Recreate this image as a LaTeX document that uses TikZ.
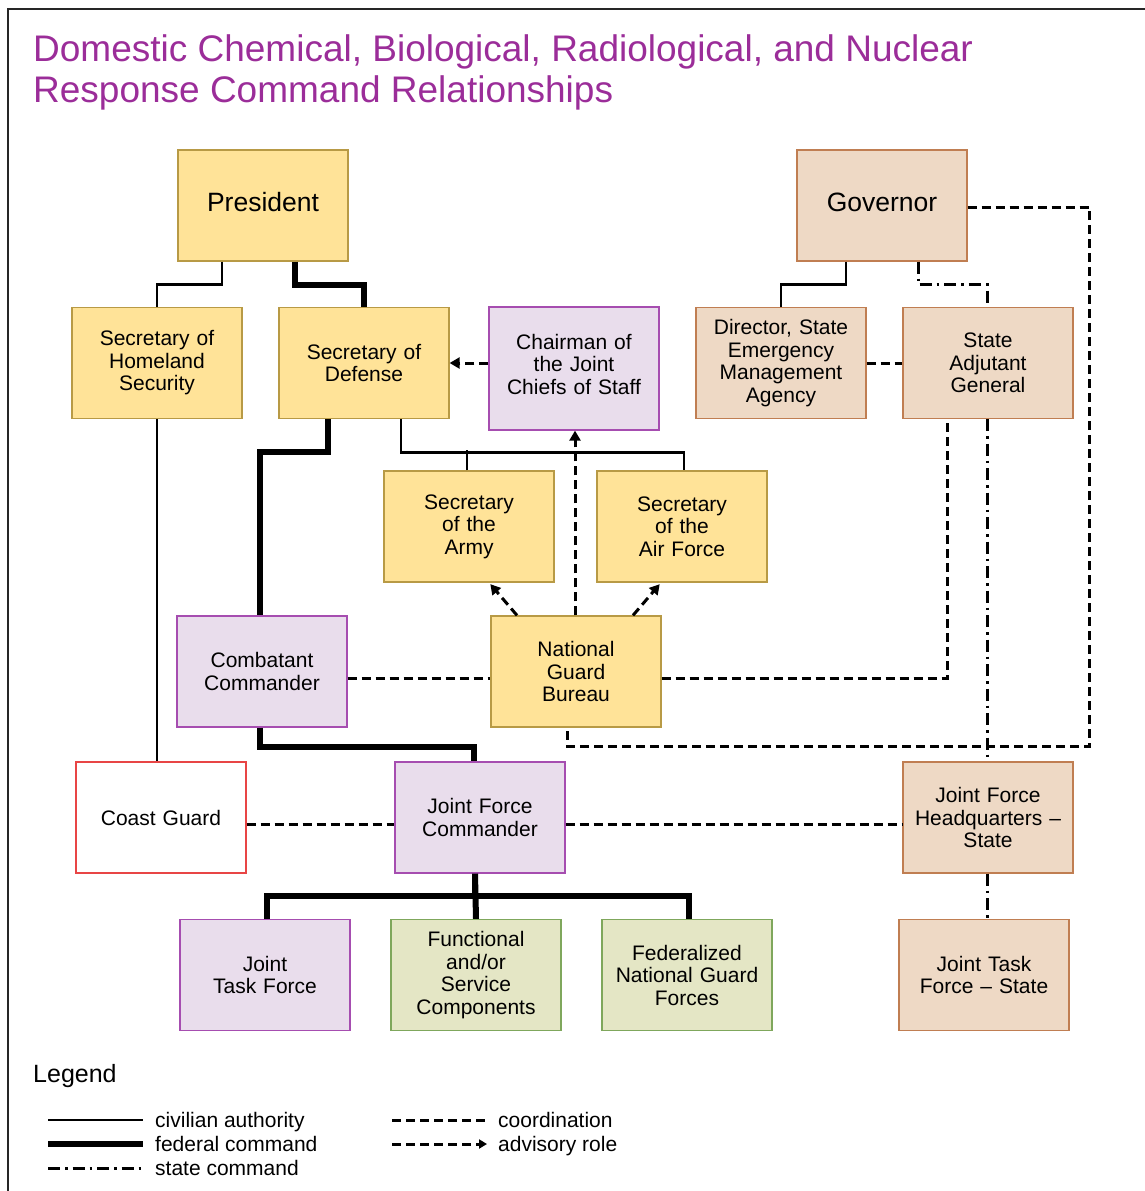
\documentclass[tikz,border=0pt]{standalone}
\usepackage{fontspec}
\setmainfont{Liberation Sans}
\usetikzlibrary{arrows.meta}

\definecolor{fedfill}{HTML}{FFE398}
\definecolor{fedline}{HTML}{B89A45}
\definecolor{statefill}{HTML}{EED9C5}
\definecolor{stateline}{HTML}{C07E52}
\definecolor{jointfill}{HTML}{E9DDEC}
\definecolor{jointline}{HTML}{A64DB0}
\definecolor{forcefill}{HTML}{E4E6C5}
\definecolor{forceline}{HTML}{7FA75C}
\definecolor{cgline}{HTML}{E84545}
\definecolor{titlecol}{HTML}{9B2D99}

\newcommand{\boxfont}{\fontsize{21}{22.5}\selectfont}
\newcommand{\bigfont}{\fontsize{26.5}{30}\selectfont}
\newcommand{\titlefont}{\fontsize{37}{41}\selectfont}

\tikzset{
  orgbox/.style={draw, line width=1.3pt, minimum width=170pt, minimum height=111pt,
    text width=164pt, align=center, inner sep=0pt, font=\boxfont},
  fedbox/.style={orgbox, fill=fedfill, draw=fedline},
  statebox/.style={orgbox, fill=statefill, draw=stateline},
  jointbox/.style={orgbox, fill=jointfill, draw=jointline},
  forcebox/.style={orgbox, fill=forcefill, draw=forceline},
  cgbox/.style={orgbox, fill=white, draw=cgline},
  civil/.style={line width=2.8pt},
  federal/.style={line width=6pt},
  statecmd/.style={line width=3pt, dash pattern=on 12pt off 5pt on 2.5pt off 5pt},
  coord/.style={line width=3pt, dash pattern=on 9pt off 5pt},
  advise/.style={coord, -{Triangle[length=10pt,width=11pt]}},
  legtext/.style={anchor=base west, inner sep=0pt, font=\boxfont},
}

\begin{document}
\begin{tikzpicture}[x=1pt,y=-1pt]
  \useasboundingbox (0,0) rectangle (1145,1191);
  \draw[line width=2.5pt, black!85] (8,1191) -- (8,9) -- (1145,9);

  % title
  \node[anchor=base west, inner sep=0pt, font=\titlefont, text=titlecol] (title1) at (33,61)
    {Domestic Chemical, Biological, Radiological, and Nuclear};
  \node[anchor=base west, inner sep=0pt, font=\titlefont, text=titlecol] (title2) at (33,102)
    {Response Command Relationships};

  % federal side
  \node[fedbox, font=\bigfont] (pres) at (263,205.5) {\raisebox{-5.5pt}[0pt][0pt]{President}};
  \node[fedbox] (sechs) at (157,363) {Secretary of\\Homeland\\Security};
  \node[fedbox] (secdef) at (364,363) {Secretary of\\Defense};
  \node[jointbox, minimum height=123pt] (cjcs) at (574,368.5) {Chairman of\\the Joint\\Chiefs of Staff\\[-14pt]\mbox{}};
  \node[fedbox] (army) at (469,526.5) {Secretary\\of the\\Army};
  \node[fedbox] (af) at (682,526.5) {Secretary\\of the\\Air Force};
  \node[jointbox] (cc) at (262,671.5) {Combatant\\Commander};
  \node[fedbox] (ngb) at (576,671.5) {National\\Guard\\Bureau};
  \node[cgbox] (cg) at (161,817.5) {Coast Guard};
  \node[jointbox] (jfc) at (480,817.5) {Joint Force\\Commander};
  \node[jointbox] (jtf) at (265,975) {Joint\\Task Force};
  \node[forcebox] (func) at (476,975) {Functional\\and/or\\Service\\Components};
  \node[forcebox] (fedng) at (687,975) {Federalized\\National Guard\\Forces};

  % state side
  \node[statebox, font=\bigfont] (gov) at (882,205.5) {\raisebox{-5.5pt}[0pt][0pt]{Governor}};
  \node[statebox] (dsema) at (781,363) {Director, State\\Emergency\\Management\\Agency};
  \node[statebox] (sag) at (988,363) {State\\Adjutant\\General};
  \node[statebox] (jfhq) at (988,817.5) {Joint Force\\Headquarters --\\State};
  \node[statebox] (jtfs) at (984,975) {Joint Task\\Force -- State};

  % civilian authority
  \draw[civil] ([xshift=-41pt]pres.south) -- ++(0,23) -| (sechs.north);
  \draw[civil] ([xshift=-36pt]gov.south) -- ++(0,23) -| (dsema.north);
  \draw[civil] ([xshift=37pt]secdef.south) -- ++(0,33) -| ([xshift=2pt]af.north);
  \draw[civil] ([xshift=-2pt]army.north) -- ++(0,-20);
  \draw[civil] (sechs.south) -- (sechs.south |- cg.north);

  % federal command
  \draw[federal] ([xshift=32pt]pres.south) -- ++(0,23) -| (secdef.north);
  \draw[federal] ([xshift=-36pt]secdef.south) -- ++(0,33) -| ([xshift=-2pt]cc.north);
  \draw[federal] ([xshift=-2pt]cc.south) -- ++(0,19) -| ([xshift=-6pt]jfc.north);
  \draw[federal] ([xshift=-5pt]jfc.south) -- (func.north);
  \draw[federal] ([xshift=-5pt]jfc.south) -- ++(0,22) -| ([xshift=2pt]jtf.north);
  \draw[federal] ([xshift=-5pt]jfc.south) -- ++(0,22) -| ([xshift=2pt]fedng.north);

  % state command
  \draw[statecmd] ([xshift=36pt]gov.south) -- ++(0,23) -| ([xshift=-1pt]sag.north);
  \draw[statecmd] ([xshift=-1pt]sag.south) -- ([xshift=-1pt]jfhq.north);
  \draw[statecmd] ([xshift=-1pt]jfhq.south) -- ([xshift=-1pt]jfhq.south |- jtfs.north);

  % coordination
  \draw[coord] (dsema.east) -- (sag.west);
  \draw[coord] ([yshift=-1.5pt]gov.east) -- ++(122,0) -- ++(0,539) -| ([xshift=-9pt]ngb.south);
  \draw[coord] ([yshift=-7pt]cc.east) -- ([yshift=-7pt]ngb.west);
  \draw[coord] ([yshift=-7pt]ngb.east) -| ([xshift=-41pt]sag.south);
  \draw[coord] ([yshift=-6.5pt]cg.east) -- ([yshift=-6.5pt]jfc.west);
  \draw[coord] ([yshift=-6.5pt]jfc.east) -- ([yshift=-6.5pt]jfhq.west);

  % advisory role
  \draw[advise] (cjcs.west |- secdef.east) -- (secdef.east);
  \draw[advise] ([xshift=-1pt]ngb.north) -- ([xshift=-1pt]ngb.north |- cjcs.south);
  \draw[advise, shorten >=2pt] ([xshift=-59pt]ngb.north) -- ([xshift=20pt]army.south);
  \draw[advise, shorten >=2pt] ([xshift=57pt]ngb.north) -- ([xshift=-21pt]af.south);

  % legend
  \node[anchor=base west, inner sep=0pt, font=\fontsize{25}{28}\selectfont] (legend) at (33,1082) {Legend};
  \coordinate (civA) at (48,1120);   \coordinate (civB) at (143,1120);
  \coordinate (fedA) at (48,1144);   \coordinate (fedB) at (143,1144);
  \coordinate (stA) at (48,1168);    \coordinate (stB) at (143,1168);
  \coordinate (coA) at (392,1120);   \coordinate (coB) at (487,1120);
  \coordinate (adA) at (392,1144);   \coordinate (adB) at (487,1144);
  \draw[civil] (civA) -- (civB);
  \draw[federal] (fedA) -- (fedB);
  \draw[statecmd] (stA) -- (stB);
  \draw[coord] (coA) -- (coB);
  \draw[advise, -{Triangle[length=8pt,width=9pt]}] (adA) -- (adB);
  \node[legtext] (civT) at (155,1127.5) {civilian authority};
  \node[legtext] (fedT) at (155,1151.5) {federal command};
  \node[legtext] (stT) at (155,1175.5) {state command};
  \node[legtext] (coT) at (498,1127.5) {coordination};
  \node[legtext] (adT) at (498,1151.5) {advisory role};
\end{tikzpicture}
\end{document}
